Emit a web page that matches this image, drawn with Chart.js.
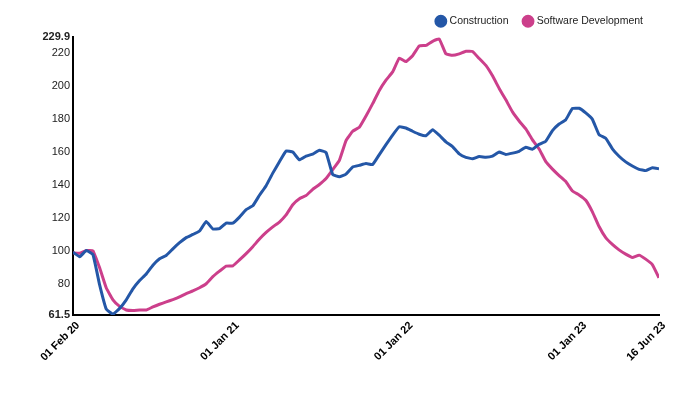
<!DOCTYPE html>
<html>
<head>
<meta charset="utf-8">
<script src="https://cdn.jsdelivr.net/npm/chart.js@4/dist/chart.umd.min.js"></script>
<style>
  html, body { margin: 0; padding: 0; background: #fff; }
  #wrap { width: 700px; height: 394px; position: relative; }
</style>
</head>
<body>
<div id="wrap"><canvas id="c"></canvas></div>
<script>
// Period: 01 Feb 2020 .. 16 Jun 2023 (1231 days), roughly fortnightly readings
const totalDays = 1231;
const tickDays = [0, 335, 700, 1065, 1231];
const tickLabels = ['01 Feb 20', '01 Jan 21', '01 Jan 22', '01 Jan 23', '16 Jun 23'];
const yTicks = [61.5, 80, 100, 120, 140, 160, 180, 200, 220, 229.9];

const construction = [
  99.5, 96.7, 100.5, 98.0, 79.7, 65.0, 62.0, 65.5, 70.7, 77.3,
  82.3, 86.3, 91.6, 95.5, 97.5, 101.5, 105.2, 108.3, 110.2, 112.3,
  118.0, 113.5, 113.7, 117.1, 117.0, 120.7, 125.2, 127.5, 133.9, 139.7,
  147.3, 154.2, 160.7, 160.0, 155.3, 157.6, 158.8, 161.1, 159.8, 146.4,
  145.1, 146.7, 151.0, 152.0, 153.1, 152.5, 158.5, 164.5, 170.3, 175.3,
  174.6, 172.6, 170.8, 169.9, 173.5, 170.2, 166.2, 163.3, 158.9, 156.8,
  156.0, 157.3, 156.9, 157.6, 160.0, 158.6, 159.4, 160.5, 162.9, 161.7,
  164.7, 166.6, 173.0, 177.0, 179.6, 186.4, 186.5, 183.7, 179.8, 170.5,
  168.4, 162.0, 157.5, 154.1, 151.6, 149.6, 148.8, 150.5, 149.9
];
const software = [
  99.0, 98.8, 100.5, 100.3, 90.0, 77.8, 70.7, 66.7, 64.5, 64.2,
  64.5, 64.5, 66.4, 68.0, 69.4, 70.8, 72.4, 74.4, 76.1, 78.0,
  80.4, 84.7, 88.0, 91.0, 91.2, 94.8, 98.6, 102.8, 107.4, 111.4,
  114.8, 117.7, 122.0, 128.2, 131.8, 133.7, 137.5, 140.4, 144.0, 149.4,
  155.0, 167.0, 172.6, 175.0, 181.8, 189.3, 197.3, 203.5, 208.5, 216.8,
  214.7, 218.3, 224.2, 224.5, 227.0, 228.4, 219.4, 218.5, 219.4, 221.0,
  220.8, 216.6, 212.4, 206.1, 198.5, 191.6, 184.3, 178.8, 174.0, 167.4,
  161.9, 154.2, 149.7, 145.8, 142.2, 136.5, 134.1, 130.9, 123.9, 115.0,
  108.3, 104.2, 100.9, 98.3, 96.3, 97.7, 95.3, 92.0, 84.0
];

const toPoints = arr => arr.map((v, i) => ({ x: i * totalDays / (arr.length - 1), y: v }));

const FONT = "'Liberation Sans', Arial, sans-serif";

new Chart(document.getElementById('c'), {
  type: 'line',
  data: {
    datasets: [
      {
        label: 'Construction',
        data: toPoints(construction),
        borderColor: '#2457a7',
        backgroundColor: '#2457a7',
        borderWidth: 3,
        pointRadius: 0,
        tension: 0.1
      },
      {
        label: 'Software Development',
        data: toPoints(software),
        borderColor: '#cc3f8b',
        backgroundColor: '#cc3f8b',
        borderWidth: 3,
        pointRadius: 0,
        tension: 0.1
      }
    ]
  },
  options: {
    responsive: true,
    maintainAspectRatio: false,
    animation: false,
    layout: { padding: { top: 0, right: 41, bottom: 0, left: 0 } },
    plugins: {
      tooltip: { enabled: false },
      legend: {
        position: 'top',
        align: 'end',
        labels: {
          usePointStyle: true,
          pointStyle: 'circle',
          boxWidth: 7,
          boxHeight: 7,
          padding: 16,
          color: '#222',
          font: { family: FONT, size: 10.5 }
        }
      }
    },
    scales: {
      x: {
        type: 'linear',
        min: 0,
        max: totalDays,
        grid: { display: false, drawTicks: false },
        border: { display: true, color: '#000', width: 2 },
        afterBuildTicks: s => { s.ticks = tickDays.map(v => ({ value: v })); },
        afterFit: s => { s.height = 79; },
        ticks: {
          autoSkip: false,
          minRotation: 45,
          maxRotation: 45,
          padding: 4,
          labelOffset: 5,
          color: '#000',
          font: { family: FONT, size: 11, weight: 'bold' },
          callback: v => {
            const k = tickDays.indexOf(v);
            return k >= 0 ? tickLabels[k] : '';
          }
        }
      },
      y: {
        min: 61.5,
        max: 229.9,
        grid: { display: false, drawTicks: false },
        border: { display: true, color: '#000', width: 2 },
        afterBuildTicks: s => { s.ticks = yTicks.map(v => ({ value: v })); },
        afterFit: s => { s.width = 73; },
        ticks: {
          autoSkip: false,
          padding: 3,
          color: '#222',
          font: ctx => ({
            family: FONT,
            size: 11,
            weight: (ctx.tick && (ctx.tick.value === 61.5 || ctx.tick.value === 229.9)) ? 'bold' : 'normal'
          }),
          callback: v => String(v)
        }
      }
    }
  }
});
</script>
</body>
</html>
